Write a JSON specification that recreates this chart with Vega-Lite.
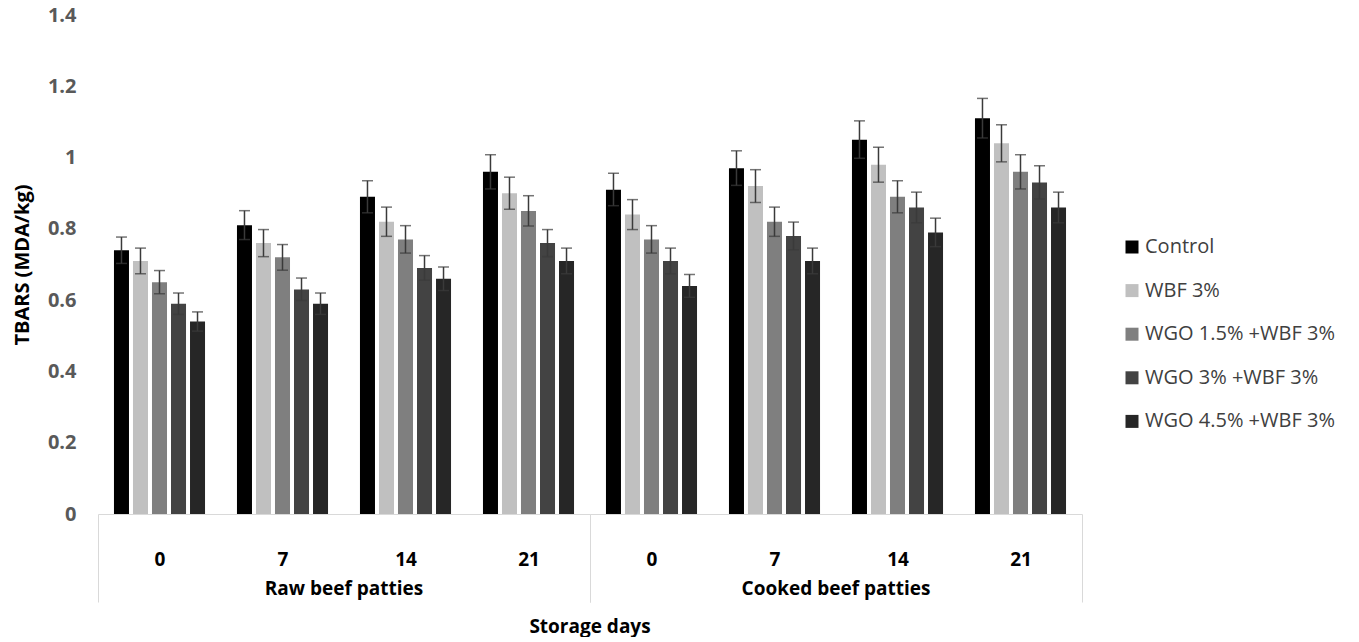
{
  "$schema": "https://vega.github.io/schema/vega-lite/v6.json",
  "background": "white",
  "padding": {"left": 12, "top": 5, "right": 0, "bottom": 0},
  "data": {
    "values": [
      {"Group": "Raw beef patties", "Day": "0", "Treatment": "Control", "TBARS": 0.74, "lo": 0.703, "hi": 0.777},
      {"Group": "Raw beef patties", "Day": "0", "Treatment": "WBF 3%", "TBARS": 0.71, "lo": 0.674, "hi": 0.746},
      {"Group": "Raw beef patties", "Day": "0", "Treatment": "WGO 1.5% +WBF 3%", "TBARS": 0.65, "lo": 0.618, "hi": 0.683},
      {"Group": "Raw beef patties", "Day": "0", "Treatment": "WGO 3% +WBF 3%", "TBARS": 0.59, "lo": 0.56, "hi": 0.62},
      {"Group": "Raw beef patties", "Day": "0", "Treatment": "WGO 4.5% +WBF 3%", "TBARS": 0.54, "lo": 0.513, "hi": 0.567},
      {"Group": "Raw beef patties", "Day": "7", "Treatment": "Control", "TBARS": 0.81, "lo": 0.77, "hi": 0.851},
      {"Group": "Raw beef patties", "Day": "7", "Treatment": "WBF 3%", "TBARS": 0.76, "lo": 0.722, "hi": 0.798},
      {"Group": "Raw beef patties", "Day": "7", "Treatment": "WGO 1.5% +WBF 3%", "TBARS": 0.72, "lo": 0.684, "hi": 0.756},
      {"Group": "Raw beef patties", "Day": "7", "Treatment": "WGO 3% +WBF 3%", "TBARS": 0.63, "lo": 0.599, "hi": 0.662},
      {"Group": "Raw beef patties", "Day": "7", "Treatment": "WGO 4.5% +WBF 3%", "TBARS": 0.59, "lo": 0.56, "hi": 0.62},
      {"Group": "Raw beef patties", "Day": "14", "Treatment": "Control", "TBARS": 0.89, "lo": 0.845, "hi": 0.935},
      {"Group": "Raw beef patties", "Day": "14", "Treatment": "WBF 3%", "TBARS": 0.82, "lo": 0.779, "hi": 0.861},
      {"Group": "Raw beef patties", "Day": "14", "Treatment": "WGO 1.5% +WBF 3%", "TBARS": 0.77, "lo": 0.732, "hi": 0.809},
      {"Group": "Raw beef patties", "Day": "14", "Treatment": "WGO 3% +WBF 3%", "TBARS": 0.69, "lo": 0.656, "hi": 0.725},
      {"Group": "Raw beef patties", "Day": "14", "Treatment": "WGO 4.5% +WBF 3%", "TBARS": 0.66, "lo": 0.627, "hi": 0.693},
      {"Group": "Raw beef patties", "Day": "21", "Treatment": "Control", "TBARS": 0.96, "lo": 0.912, "hi": 1.008},
      {"Group": "Raw beef patties", "Day": "21", "Treatment": "WBF 3%", "TBARS": 0.9, "lo": 0.855, "hi": 0.945},
      {"Group": "Raw beef patties", "Day": "21", "Treatment": "WGO 1.5% +WBF 3%", "TBARS": 0.85, "lo": 0.808, "hi": 0.893},
      {"Group": "Raw beef patties", "Day": "21", "Treatment": "WGO 3% +WBF 3%", "TBARS": 0.76, "lo": 0.722, "hi": 0.798},
      {"Group": "Raw beef patties", "Day": "21", "Treatment": "WGO 4.5% +WBF 3%", "TBARS": 0.71, "lo": 0.674, "hi": 0.746},
      {"Group": "Cooked beef patties", "Day": "0", "Treatment": "Control", "TBARS": 0.91, "lo": 0.865, "hi": 0.956},
      {"Group": "Cooked beef patties", "Day": "0", "Treatment": "WBF 3%", "TBARS": 0.84, "lo": 0.798, "hi": 0.882},
      {"Group": "Cooked beef patties", "Day": "0", "Treatment": "WGO 1.5% +WBF 3%", "TBARS": 0.77, "lo": 0.732, "hi": 0.809},
      {"Group": "Cooked beef patties", "Day": "0", "Treatment": "WGO 3% +WBF 3%", "TBARS": 0.71, "lo": 0.674, "hi": 0.746},
      {"Group": "Cooked beef patties", "Day": "0", "Treatment": "WGO 4.5% +WBF 3%", "TBARS": 0.64, "lo": 0.608, "hi": 0.672},
      {"Group": "Cooked beef patties", "Day": "7", "Treatment": "Control", "TBARS": 0.97, "lo": 0.922, "hi": 1.019},
      {"Group": "Cooked beef patties", "Day": "7", "Treatment": "WBF 3%", "TBARS": 0.92, "lo": 0.874, "hi": 0.966},
      {"Group": "Cooked beef patties", "Day": "7", "Treatment": "WGO 1.5% +WBF 3%", "TBARS": 0.82, "lo": 0.779, "hi": 0.861},
      {"Group": "Cooked beef patties", "Day": "7", "Treatment": "WGO 3% +WBF 3%", "TBARS": 0.78, "lo": 0.741, "hi": 0.819},
      {"Group": "Cooked beef patties", "Day": "7", "Treatment": "WGO 4.5% +WBF 3%", "TBARS": 0.71, "lo": 0.674, "hi": 0.746},
      {"Group": "Cooked beef patties", "Day": "14", "Treatment": "Control", "TBARS": 1.05, "lo": 0.998, "hi": 1.103},
      {"Group": "Cooked beef patties", "Day": "14", "Treatment": "WBF 3%", "TBARS": 0.98, "lo": 0.931, "hi": 1.029},
      {"Group": "Cooked beef patties", "Day": "14", "Treatment": "WGO 1.5% +WBF 3%", "TBARS": 0.89, "lo": 0.845, "hi": 0.935},
      {"Group": "Cooked beef patties", "Day": "14", "Treatment": "WGO 3% +WBF 3%", "TBARS": 0.86, "lo": 0.817, "hi": 0.903},
      {"Group": "Cooked beef patties", "Day": "14", "Treatment": "WGO 4.5% +WBF 3%", "TBARS": 0.79, "lo": 0.75, "hi": 0.83},
      {"Group": "Cooked beef patties", "Day": "21", "Treatment": "Control", "TBARS": 1.11, "lo": 1.055, "hi": 1.166},
      {"Group": "Cooked beef patties", "Day": "21", "Treatment": "WBF 3%", "TBARS": 1.04, "lo": 0.988, "hi": 1.092},
      {"Group": "Cooked beef patties", "Day": "21", "Treatment": "WGO 1.5% +WBF 3%", "TBARS": 0.96, "lo": 0.912, "hi": 1.008},
      {"Group": "Cooked beef patties", "Day": "21", "Treatment": "WGO 3% +WBF 3%", "TBARS": 0.93, "lo": 0.884, "hi": 0.977},
      {"Group": "Cooked beef patties", "Day": "21", "Treatment": "WGO 4.5% +WBF 3%", "TBARS": 0.86, "lo": 0.817, "hi": 0.903}
    ]
  },
  "facet": {
    "column": {
      "field": "Group",
      "type": "nominal",
      "sort": ["Raw beef patties", "Cooked beef patties"],
      "header": {
        "labelOrient": "bottom",
        "labelFont": "Open Sans",
        "labelFontSize": 19,
        "labelFontWeight": "bold",
        "labelColor": "#000000",
        "labelPadding": -23,
        "title": "Storage days",
        "titleOrient": "bottom",
        "titleFont": "Open Sans",
        "titleFontSize": 19,
        "titleFontWeight": "bold",
        "titleColor": "#000000",
        "titlePadding": 5
      }
    }
  },
  "spacing": 0,
  "spec": {
    "width": 492,
    "height": 499,
    "encoding": {
      "x": {
        "field": "Day",
        "type": "ordinal",
        "sort": ["0", "7", "14", "21"],
        "scale": {"paddingInner": 0, "paddingOuter": 0},
        "axis": {
          "title": null,
          "labelAngle": 0,
          "ticks": true,
          "tickBand": "extent",
          "tickSize": 88,
          "tickColor": "#d9d9d9",
          "tickWidth": 1,
          "tickOpacity": {"condition": {"test": "datum.value === '21' || datum.extra", "value": 1}, "value": 0},
          "labelPadding": -52,
          "labelFont": "Open Sans",
          "labelFontSize": 19,
          "labelFontWeight": "bold",
          "labelColor": "#000000",
          "domainColor": "#d9d9d9",
          "domainWidth": 1
        }
      }
    },
    "layer": [
      {
        "mark": {"type": "bar"},
        "encoding": {
          "xOffset": {
            "field": "Treatment",
            "sort": ["Control", "WBF 3%", "WGO 1.5% +WBF 3%", "WGO 3% +WBF 3%", "WGO 4.5% +WBF 3%"],
            "scale": {"paddingInner": 0.21, "paddingOuter": 0.84}
          },
          "y": {
            "field": "TBARS",
            "type": "quantitative",
            "scale": {"domain": [0, 1.4], "nice": false},
            "axis": {
              "title": "TBARS (MDA/kg)",
              "values": [0, 0.2, 0.4, 0.6, 0.8, 1, 1.2, 1.4],
              "format": "~g",
              "grid": false,
              "domain": false,
              "ticks": false,
              "labelPadding": 22,
              "labelFont": "Open Sans",
              "labelFontSize": 20,
              "labelFontWeight": "bold",
              "labelColor": "#595959",
              "titleFont": "Open Sans",
              "titleFontSize": 20,
              "titleFontWeight": "bold",
              "titleColor": "#000000",
              "titlePadding": 15
            }
          },
          "color": {
            "field": "Treatment",
            "type": "nominal",
            "sort": ["Control", "WBF 3%", "WGO 1.5% +WBF 3%", "WGO 3% +WBF 3%", "WGO 4.5% +WBF 3%"],
            "scale": {"range": ["#000000", "#c0c0c0", "#7f7f7f", "#434343", "#262626"]},
            "legend": {
              "title": null,
              "orient": "none",
              "legendX": 1024,
              "legendY": 222,
              "symbolType": "square",
              "symbolSize": 169,
              "symbolStrokeWidth": 0,
              "labelFont": "Open Sans",
              "labelFontSize": 20,
              "labelColor": "#404040",
              "labelOffset": 3,
              "labelLimit": 300,
              "rowPadding": 23.6
            }
          }
        }
      },
      {
        "mark": {"type": "rule", "color": "#3a3a3a", "strokeWidth": 1.5},
        "encoding": {
          "xOffset": {
            "field": "Treatment",
            "sort": ["Control", "WBF 3%", "WGO 1.5% +WBF 3%", "WGO 3% +WBF 3%", "WGO 4.5% +WBF 3%"]
          },
          "y": {"field": "lo", "type": "quantitative"},
          "y2": {"field": "hi"}
        }
      },
      {
        "mark": {"type": "tick", "color": "#3a3a3a", "size": 11, "thickness": 1.5},
        "encoding": {
          "xOffset": {
            "field": "Treatment",
            "sort": ["Control", "WBF 3%", "WGO 1.5% +WBF 3%", "WGO 3% +WBF 3%", "WGO 4.5% +WBF 3%"]
          },
          "y": {"field": "hi", "type": "quantitative"}
        }
      },
      {
        "mark": {"type": "tick", "color": "#3a3a3a", "size": 11, "thickness": 1.5},
        "encoding": {
          "xOffset": {
            "field": "Treatment",
            "sort": ["Control", "WBF 3%", "WGO 1.5% +WBF 3%", "WGO 3% +WBF 3%", "WGO 4.5% +WBF 3%"]
          },
          "y": {"field": "lo", "type": "quantitative"}
        }
      }
    ]
  },
  "config": {
    "view": {"stroke": null}
  }
}
